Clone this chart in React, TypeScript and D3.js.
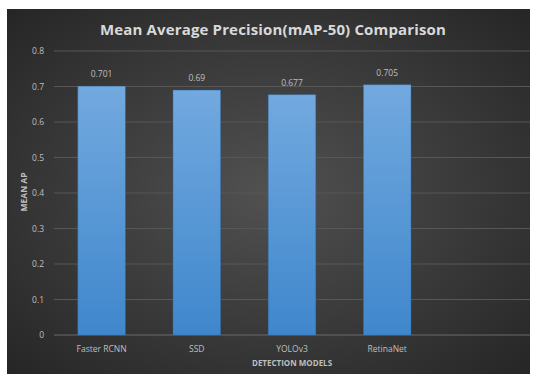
import React from "react";
import * as d3 from "d3";

const categories = ["Faster RCNN", "SSD", "YOLOv3", "RetinaNet", ""];
const values = [0.701, 0.69, 0.677, 0.705];
const valueLabels = ["0.701", "0.69", "0.677", "0.705"];
const yTicks = [0, 0.1, 0.2, 0.3, 0.4, 0.5, 0.6, 0.7, 0.8];

export default function App() {
  const W = 534, H = 375;
  const frame = { x: 7, y: 9, w: 523, h: 365 };
  const plot = { left: 54, right: 530, top: 51, bottom: 335 };
  const x = d3.scaleBand<string>().domain(categories.map((c, i) => c + "#" + i)).range([plot.left, plot.right]).paddingInner(0.5).paddingOuter(0.25);
  const y = d3.scaleLinear().domain([0, 0.8]).range([plot.bottom, plot.top]);
  const font = "'Open Sans', 'Liberation Sans', sans-serif";
  return (
    <svg width={W} height={H} style={{ position: "absolute", left: 0, top: 0 }}>
      <defs>
        <radialGradient id="bg" cx="50%" cy="50%" r="70%">
          <stop offset="0%" stopColor="#515151" />
          <stop offset="100%" stopColor="#262626" />
        </radialGradient>
        <linearGradient id="bar" x1="0" y1="0" x2="0" y2="1">
          <stop offset="0%" stopColor="#72a9df" />
          <stop offset="100%" stopColor="#3f87cc" />
        </linearGradient>
      </defs>
      <rect x={0} y={0} width={W} height={H} fill="#fff" />
      <rect x={frame.x} y={frame.y} width={frame.w} height={frame.h} fill="url(#bg)" />
      <text x={273} y={35} textAnchor="middle" fill="#d9d9d9" fontFamily={font} fontWeight="bold" fontSize={15} letterSpacing={0.15}>
        Mean Average Precision(mAP-50) Comparison
      </text>
      {yTicks.map((t) => (
        <g key={t}>
          <line x1={plot.left} x2={plot.right} y1={y(t)} y2={y(t)} stroke={t === 0 ? "#6a6a6a" : "#575757"} strokeWidth={1} />
          <text x={44} y={y(t) + 3} textAnchor="end" fill="#bfbfbf" fontFamily={font} fontSize={8.5}>
            {String(t)}
          </text>
        </g>
      ))}
      {values.map((v, i) => {
        const key = categories[i] + "#" + i;
        const bx = x(key)!;
        return (
          <g key={key}>
            <rect x={bx} y={y(v)} width={x.bandwidth()} height={y(0) - y(v)} fill="url(#bar)" stroke="#2f6aa3" strokeOpacity={0.5} strokeWidth={0.8} />
            <text x={bx + x.bandwidth() / 2} y={y(v) - 9} textAnchor="middle" fill="#bfbfbf" fontFamily={font} fontSize={8.5}>
              {valueLabels[i]}
            </text>
          </g>
        );
      })}
      {categories.map((c, i) => (
        <text key={i} x={x(c + "#" + i)! + x.bandwidth() / 2} y={352} textAnchor="middle" fill="#bfbfbf" fontFamily={font} fontSize={8.5}>
          {c}
        </text>
      ))}
      <text x={(plot.left + plot.right) / 2} y={366} textAnchor="middle" fill="#bfbfbf" fontFamily={font} fontWeight="bold" fontSize={8}>
        DETECTION MODELS
      </text>
      <text transform={`translate(27, 192) rotate(-90)`} textAnchor="middle" fill="#bfbfbf" fontFamily={font} fontWeight="bold" fontSize={8.5}>
        MEAN AP
      </text>
    </svg>
  );
}
